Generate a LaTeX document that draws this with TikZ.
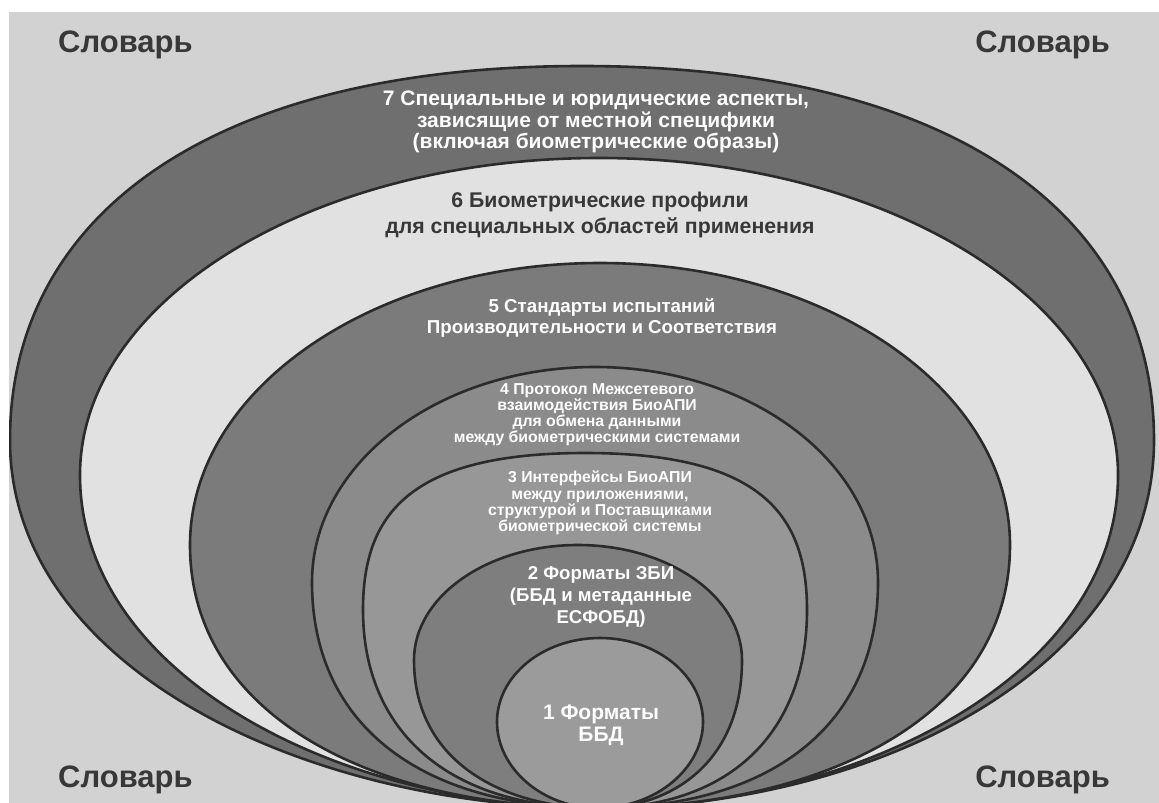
\documentclass[tikz,border=0pt]{standalone}
\usepackage{fontspec}
\setmainfont{Liberation Sans}
\definecolor{bgc}{HTML}{D2D2D2}
\definecolor{cseven}{HTML}{6F6F6F}
\definecolor{csix}{HTML}{E1E1E1}
\definecolor{cfive}{HTML}{7B7B7B}
\definecolor{cfour}{HTML}{8B8B8B}
\definecolor{cthree}{HTML}{979797}
\definecolor{ctwo}{HTML}{7E7E7E}
\definecolor{cone}{HTML}{9B9B9B}
\definecolor{edge}{HTML}{2B2B2B}
\definecolor{darktext}{HTML}{383838}
% #1 style, #2 cx, #3 cy, #4 rx, #5 ry, #6 lower control fraction, #7 bottom taper,
% #8 top horizontal control factor, #9 side vertical control factor
\newcommand\eggshape[9]{%
  \path[#1] ({#2-#4},#3) .. controls ({#2-#4},{#3-#9*#5}) and ({#2-#8*#4},{#3-#5}) .. (#2,{#3-#5})
   .. controls ({#2+#8*#4},{#3-#5}) and ({#2+#4},{#3-#9*#5}) .. ({#2+#4},#3)
   .. controls ({#2+#4},{#3+#6*(808-#3)}) and ({598+#7*(#2+#4-598)},808) .. (598,808)
   .. controls ({598-#7*(598-#2+#4)},808) and ({#2-#4},{#3+#6*(808-#3)}) .. cycle;}
\begin{document}
\begin{tikzpicture}[x=1pt,y=-1pt,
  layer/.style={draw=edge,line width=2.6pt},
  wlabel/.style={text=white,font=\bfseries,align=center,inner sep=0pt},
  dlabel/.style={text=darktext,font=\bfseries,align=center,inner sep=0pt},
  vocab/.style={text=darktext,font=\fontsize{31}{36}\selectfont\bfseries,inner sep=0pt}]
\useasboundingbox (0,0) rectangle (1159,803);
\fill[white] (0,0) rectangle (1159,803);
\fill[bgc] (9,12) rectangle (1159,803);
\begin{scope}
\clip (9,12) rectangle (1159,803);
\eggshape{layer,fill=cseven}{582}{440}{572}{374}{0.625}{0.49}{0.65}{0.6}
\eggshape{layer,fill=csix}{599}{475}{519}{317}{0.6}{0.5}{0.5523}{0.5523}
\eggshape{layer,fill=cfive}{600}{545}{410}{282}{0.65}{0.55}{0.5523}{0.5523}
\eggshape{layer,fill=cfour}{595}{582}{283}{215}{0.65}{0.6}{0.5523}{0.5523}
\eggshape{layer,fill=cthree}{585}{610}{222}{157}{0.6}{0.65}{0.8}{0.6}
\eggshape{layer,fill=ctwo}{578}{660}{164}{115}{0.7}{0.5}{0.5523}{0.5523}
\eggshape{layer,fill=cone}{600}{722}{103}{84}{0.535}{0.5523}{0.5523}{0.5523}
\end{scope}
\node[vocab,anchor=base west] (v1) at (58,52) {Словарь};
\node[vocab,anchor=base east] (v2) at (1110,52) {Словарь};
\node[vocab,anchor=base west] (v3) at (58,787) {Словарь};
\node[vocab,anchor=base east] (v4) at (1110,787) {Словарь};
\node[wlabel,font=\fontsize{21}{21.5}\selectfont\bfseries] (l7) at (596,122)
  {7 Специальные и юридические аспекты,\\зависящие от местной специфики\\(включая биометрические образы)};
\node[dlabel,font=\fontsize{21.3}{26}\selectfont\bfseries] (l6) at (600,215)
  {6 Биометрические профили\\для специальных областей применения};
\node[wlabel,font=\fontsize{18.7}{21}\selectfont\bfseries] (l5) at (602,318)
  {5 Стандарты испытаний\\Производительности и Соответствия};
\node[wlabel,font=\fontsize{15.8}{16}\selectfont\bfseries] (l4) at (597,415)
  {4 Протокол Межсетевого\\взаимодействия БиоАПИ\\для обмена данными\\между биометрическими системами};
\node[wlabel,font=\fontsize{15.8}{16.3}\selectfont\bfseries] (l3) at (600,503)
  {3 Интерфейсы БиоАПИ\\между приложениями,\\структурой и Поставщиками\\биометрической системы};
\node[wlabel,font=\fontsize{18.6}{22}\selectfont\bfseries] (l2) at (601,597)
  {2 Форматы ЗБИ\\(ББД и метаданные\\ЕСФОБД)};
\node[wlabel,font=\fontsize{21}{22}\selectfont\bfseries] (l1) at (601,725)
  {1 Форматы\\ББД};
\end{tikzpicture}
\end{document}
